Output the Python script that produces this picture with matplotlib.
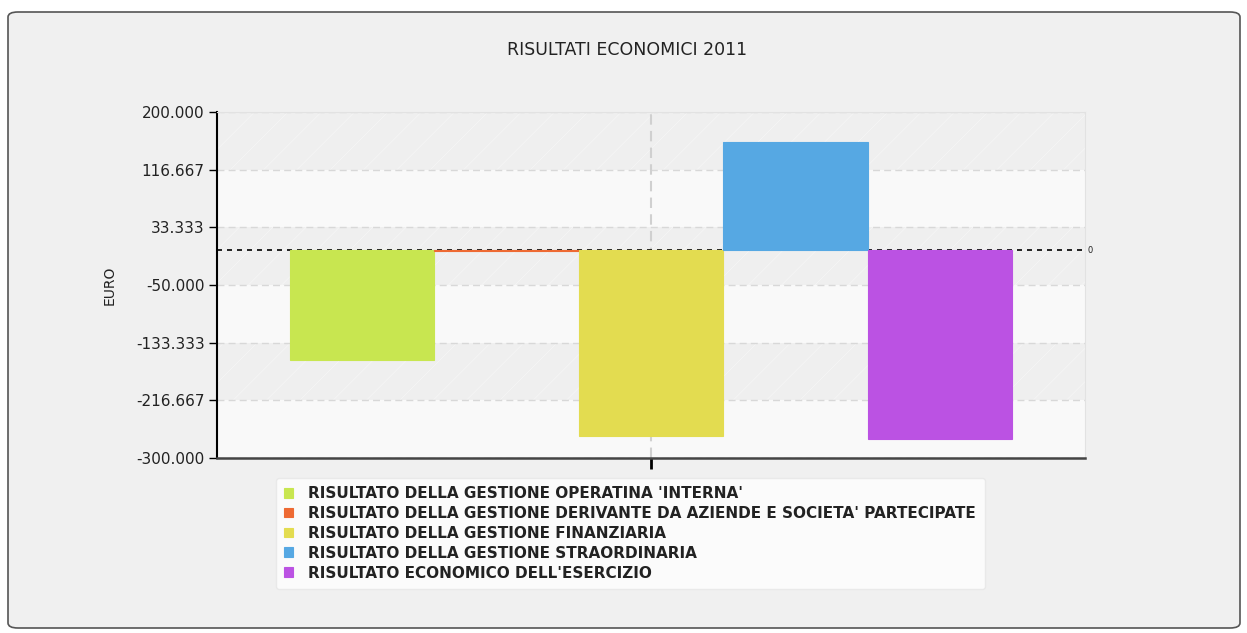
import matplotlib
matplotlib.use("Agg")
import matplotlib.pyplot as plt
from matplotlib.patches import FancyBboxPatch
from matplotlib.ticker import FixedLocator

# Results for 2011, in euro
series = [
    "RISULTATO DELLA GESTIONE OPERATINA 'INTERNA'",
    "RISULTATO DELLA GESTIONE DERIVANTE DA AZIENDE E SOCIETA' PARTECIPATE",
    "RISULTATO DELLA GESTIONE FINANZIARIA",
    "RISULTATO DELLA GESTIONE STRAORDINARIA",
    "RISULTATO ECONOMICO DELL'ESERCIZIO",
]
values = [-158000, -1500, -268000, 156000, -273000]
colors = ["#c8e650", "#ee6a33", "#e3dc50", "#56a8e3", "#bb52e3"]
y_ticks = [200000, 116667, 33333, -50000, -133333, -216667, -300000]
y_tick_labels = ["200.000", "116.667", "33.333", "-50.000", "-133.333", "-216.667", "-300.000"]

matplotlib.rcParams["hatch.color"] = "#f6f6f6"
matplotlib.rcParams["hatch.linewidth"] = 0.5

fig = plt.figure(figsize=(12.47, 6.33), dpi=100)
fig.patch.set_facecolor("white")

# Outer rounded panel
panel = FancyBboxPatch((8 / 1247, 5 / 633), 1232 / 1247, 616 / 633,
                       boxstyle="round,pad=0,rounding_size=0.008",
                       transform=fig.transFigure, facecolor="#f0f0f0",
                       edgecolor="#555555", linewidth=1.2, zorder=-10)
fig.patches.append(panel)

ax = fig.add_axes([217 / 1247, 1 - 458 / 633, 868 / 1247, 346 / 633])
ax.set_facecolor("#f9f9f9")
ax.set_xlim(-0.5, 0.5)
ax.set_ylim(-300000, 200000)

# Alternating horizontal bands
bounds = sorted(y_ticks)
for i in range(len(bounds) - 1):
    if i % 2 == 1:
        ax.axhspan(bounds[i], bounds[i + 1], facecolor="#efefef",
                   hatch="/", linewidth=0, zorder=0)

for yt in y_ticks:
    ax.axhline(yt, color="#d8d8d8", linestyle=(0, (5, 3)), linewidth=1, zorder=1)
ax.axvline(0, color="#d0d0d0", linestyle=(0, (5, 3)), linewidth=1.5, zorder=1)

# Zero reference line
ax.axhline(0, color="black", linestyle=(0, (3, 3)), linewidth=1.2, zorder=2)
ax.text(1.003, 0, "0", transform=ax.get_yaxis_transform(), fontsize=6,
        va="center", ha="left", color="#222222")

n = len(values)
width = 0.1665
for i, (v, c, name) in enumerate(zip(values, colors, series)):
    ax.bar((i - (n - 1) / 2) * width, v, width=width, color=c,
           edgecolor=c, linewidth=0.8, label=name, zorder=3)

ax.yaxis.set_major_locator(FixedLocator(y_ticks))
ax.set_yticklabels(y_tick_labels)
ax.set_xticks([0])
ax.set_xticklabels([""])
ax.tick_params(axis="y", length=6, width=1, labelsize=11, colors="black",
               labelcolor="#222222", pad=3)
ax.tick_params(axis="x", length=8, width=2, colors="black")

ax.spines["top"].set_color("#e2e2e2")
ax.spines["right"].set_color("#e2e2e2")
ax.spines["left"].set_color("black")
ax.spines["left"].set_linewidth(1.5)
ax.spines["bottom"].set_color("#444444")
ax.spines["bottom"].set_linewidth(1.8)

ax.set_ylabel("EURO", fontsize=10, color="#222222", labelpad=14)
fig.text(627 / 1247, 1 - 50 / 633, "RISULTATI ECONOMICI 2011", fontsize=12.5,
         ha="center", va="center", color="#222222")

leg = ax.legend(loc="upper left", bbox_to_anchor=(268 / 1247, 1 - 470 / 633),
                bbox_transform=fig.transFigure, frameon=True, fancybox=True,
                handlelength=0.6, handleheight=0.6,
                handletextpad=1.0, labelspacing=0.32, borderpad=0.55,
                prop={"family": ["Liberation Sans Narrow", "DejaVu Sans"],
                      "weight": "bold", "size": 11})
leg.get_frame().set_facecolor("white")
leg.get_frame().set_edgecolor("#e6e6e6")
for t in leg.get_texts():
    t.set_color("#222222")

fig.savefig("out.png", dpi=100, facecolor=fig.get_facecolor())
